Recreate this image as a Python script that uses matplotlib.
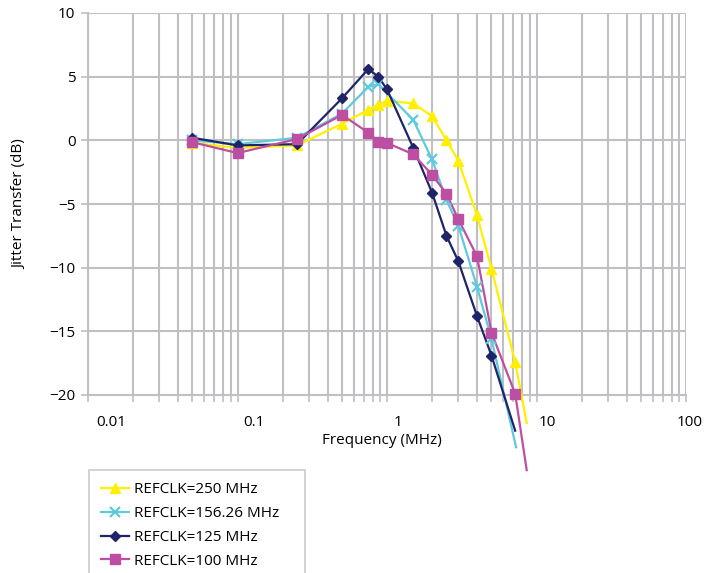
import numpy as np
import matplotlib
matplotlib.use("Agg")
import matplotlib.pyplot as plt
from matplotlib.transforms import ScaledTranslation

plt.rcParams['font.family'] = ['Open Sans', 'DejaVu Sans']

# frequencies (MHz) and jitter transfer (dB) per reference clock
freq_250 = [0.05, 0.1, 0.25, 0.5, 0.75, 0.875, 1.0, 1.5, 2.0, 2.5, 3.0, 4.0, 5.0, 7.2, 8.6]
jt_250 = [-0.2, -0.6, -0.4, 1.3, 2.4, 2.8, 3.1, 2.9, 1.9, 0.0, -1.6, -5.9, -10.1, -17.4, -22.2]

freq_156 = [0.05, 0.1, 0.25, 0.5, 0.75, 0.875, 1.5, 2.0, 2.5, 3.0, 4.0, 5.0, 7.3]
jt_156 = [0.0, -0.3, 0.2, 2.1, 4.2, 4.4, 1.6, -1.5, -4.7, -6.7, -11.5, -15.6, -24.1]

freq_125 = [0.05, 0.1, 0.25, 0.5, 0.75, 0.875, 1.0, 1.5, 2.0, 2.5, 3.0, 4.0, 5.0, 7.2]
jt_125 = [0.2, -0.4, -0.3, 3.3, 5.6, 5.0, 4.0, -0.6, -4.1, -7.5, -9.5, -13.8, -16.9, -22.8]

freq_100 = [0.05, 0.1, 0.25, 0.5, 0.75, 0.875, 1.0, 1.5, 2.0, 2.5, 3.0, 4.0, 5.0, 7.2, 8.6]
jt_100 = [-0.15, -1.0, 0.1, 2.0, 0.6, -0.1, -0.2, -1.1, -2.7, -4.2, -6.2, -9.1, -15.1, -19.9, -25.9]

labels = ["REFCLK=250 MHz", "REFCLK=156.26 MHz", "REFCLK=125 MHz", "REFCLK=100 MHz"]
x_ticks = [0.01, 0.1, 1, 10, 100]
x_ticklabels = ["0.01", "0.1", "1", "10", "100"]
y_ticks = [10, 5, 0, -5, -10, -15, -20]

series = [
    (freq_250, jt_250, "#FFF000", "^", 7, 1.0),
    (freq_156, jt_156, "#5FC9DD", "x", 7, 1.6),
    (freq_125, jt_125, "#1F2468", "D", 5, 1.0),
    (freq_100, jt_100, "#BD4FA3", "s", 7, 1.0),
]

fig = plt.figure(figsize=(7.04, 5.73), dpi=100)
ax = fig.add_axes([88 / 704, 1 - 395 / 573, 598 / 704, 382 / 573])

grid_c = "#BFBFC4"
handles = []
for (f, v, c, m, ms, mew), lab in zip(series, labels):
    f = np.array(f)
    v = np.array(v)
    ax.plot(f, v, color=c, lw=1.6, clip_on=False, zorder=3)
    keep = v >= -20.5
    ax.plot(f[keep], v[keep], ls="none", marker=m, ms=ms, color=c,
            mec=c, mew=mew, clip_on=False, zorder=4)
    h, = ax.plot([], [], color=c, lw=1.6, marker=m, ms=ms, mew=mew)
    handles.append(h)

ax.set_xscale("log")
ax.set_xlim(0.01, 100)
ax.set_ylim(-20, 10)
ax.set_xticks(x_ticks)
ax.set_xticklabels(x_ticklabels)
ax.set_yticks(y_ticks)
ax.set_yticklabels([str(t).replace("-", "\u2212") for t in y_ticks])

ax.grid(True, which="both", axis="x", color=grid_c, lw=1.5)
ax.grid(True, which="major", axis="y", color=grid_c, lw=1.5)
ax.set_axisbelow(True)
for s in ["top", "right"]:
    ax.spines[s].set_visible(False)
for s in ["left", "bottom"]:
    ax.spines[s].set_color(grid_c)
    ax.spines[s].set_linewidth(1.5)

fs = 11
ax.tick_params(axis="both", which="both", direction="out", length=5,
               color=grid_c, width=1.2, labelsize=fs, labelcolor="#000000")
ax.tick_params(axis="x", which="both", pad=9.5)
ax.tick_params(axis="y", pad=4)

# Excel-style label shifts
for lbl, dx in zip(ax.get_xticklabels(), [23, 16, 11, 11, 4]):
    lbl.set_transform(lbl.get_transform() + ScaledTranslation(dx / 100, 0, fig.dpi_scale_trans))

ax.set_xlabel("Frequency (MHz)", fontsize=fs)
ax.set_ylabel("Jitter Transfer (dB)", fontsize=fs)
ax.xaxis.set_label_coords((382 - 88) / 598, -(433 - 395) / 382)
ax.xaxis.label.set_va("top")
ax.yaxis.set_label_coords((27 - 88) / 598, 0.5)

leg = fig.legend(handles, labels, loc="upper left",
                 bbox_to_anchor=(89 / 704, 0, 216 / 704, 1 - 470 / 573),
                 mode="expand", fontsize=fs,
                 frameon=True, fancybox=False, handlelength=1.85,
                 handletextpad=0.3, labelspacing=0.58, borderpad=0.8,
                 borderaxespad=0)
leg.get_frame().set_edgecolor(grid_c)
leg.get_frame().set_linewidth(1.2)

fig.savefig("out.png", dpi=100)
